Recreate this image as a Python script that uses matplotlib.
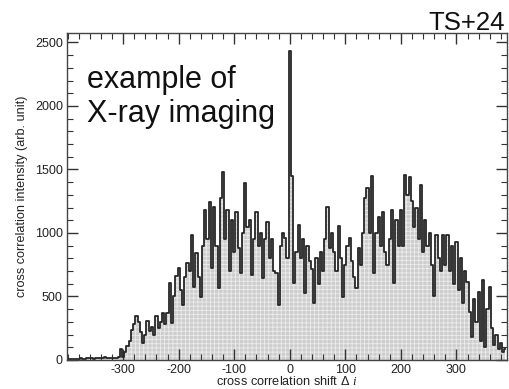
import numpy as np
import matplotlib
matplotlib.use("Agg")
import matplotlib.pyplot as plt

plt.rcParams['font.family'] = ['Liberation Sans', 'DejaVu Sans']
plt.rcParams['mathtext.fontset'] = 'custom'
plt.rcParams['mathtext.it'] = 'Liberation Serif:italic'
plt.rcParams['mathtext.rm'] = 'Liberation Sans'
plt.rcParams['axes.unicode_minus'] = False
plt.rcParams['hatch.linewidth'] = 0.6

# ---- data ----
shift = np.arange(-400, 390, 4)
intensity = [
    5, 8, 6, 10, 7, 9, 12, 8, 10, 14,                       # -400..-364
    12, 15, 10, 14, 18, 12, 16, 20, 15, 18,                 # -360..-324
    15, 18, 14, 20, 87, 22, 60, 110, 150, 236,              # -320..-284
    280, 350, 302, 220, 131, 200, 307, 230, 262, 200,       # -280..-244
    346, 250, 300, 367, 280, 367, 609, 289, 500, 661,       # -240..-204
    722, 550, 433, 650, 761, 700, 984, 577, 840, 650,       # -200..-164
    499, 900, 1181, 950, 1246, 722, 1207, 900, 567, 1275,   # -160..-124
    1480, 950, 1180, 700, 1100, 850, 1168, 880, 685, 1000,  # -120..-84
    1390, 1050, 1100, 669, 950, 1168, 900, 1000, 645, 950,  # -80..-44
    1090, 800, 950, 700, 685, 433, 900, 1000, 960, 800,     # -40..-4
    2430, 1450, 606, 850, 1063, 800, 950, 527, 900, 780,    # 0..36
    720, 446, 800, 600, 853, 700, 950, 1207, 880, 1000,     # 40..76
    850, 700, 1055, 800, 499, 750, 900, 958, 780, 650,      # 80..116
    567, 882, 750, 1000, 1278, 1352, 1000, 1449, 683, 1000, # 120..156
    1129, 900, 1163, 850, 748, 950, 1181, 606, 1102, 900,   # 160..196
    1181, 900, 1457, 1300, 1440, 1250, 1050, 1200, 950, 1378,  # 200..236
    850, 1100, 900, 1000, 750, 500, 985, 800, 700, 985,     # 240..276
    750, 985, 700, 900, 600, 930, 550, 800, 450, 700,       # 280..316
    616, 380, 183, 480, 300, 538, 150, 630, 105, 400,       # 320..356
    577, 250, 120, 200, 90, 130, 60, 90,                    # 360..388
]
xticks = [-300, -200, -100, 0, 100, 200, 300]
yticks = [0, 500, 1000, 1500, 2000, 2500]

fig = plt.figure(figsize=(5.10, 3.89), dpi=100)
ax = fig.add_axes([67/510, 1-360/389, 440/510, (360-33.3)/389])

ax.fill_between(shift, intensity, 0, step='mid', facecolor='#cdcdcd',
                edgecolor='#ececec', hatch='++++', linewidth=0)
ax.plot(shift, intensity, drawstyle='steps-mid', color='#262626', lw=1.3)

ax.set_xlim(-401, 391)
ax.set_ylim(0, 2572)
ax.set_xticks(xticks)
ax.set_yticks(yticks)
ax.set_xticks(np.arange(-400, 391, 20), minor=True)
ax.set_yticks(np.arange(0, 2572, 100), minor=True)
ax.tick_params(which='both', direction='in', top=True, right=True,
               colors='#333333', labelcolor='#222222', labelsize=9)
ax.tick_params(which='major', length=8, width=1.0, pad=3)
ax.tick_params(which='minor', length=4, width=0.8)
for s in ax.spines.values():
    s.set_color('#444444')
    s.set_linewidth(1.0)

ax.set_xlabel(r'cross correlation shift $\Delta$ $i$', fontsize=9.2,
              color='#222222', labelpad=-0.5)
ax.set_ylabel('cross correlation intensity (arb. unit)', fontsize=9.1,
              color='#222222', labelpad=5)

fig.text(505/510, 1-30/389, 'TS+24', ha='right', va='baseline',
         fontsize=18.5, color='#111111')
fig.text(87/510, 1-88/389, 'example of', ha='left', va='baseline',
         fontsize=22, color='#111111')
fig.text(87/510, 1-121.7/389, 'X-ray imaging', ha='left', va='baseline',
         fontsize=22, color='#111111')

fig.savefig('out.png', dpi=100)
